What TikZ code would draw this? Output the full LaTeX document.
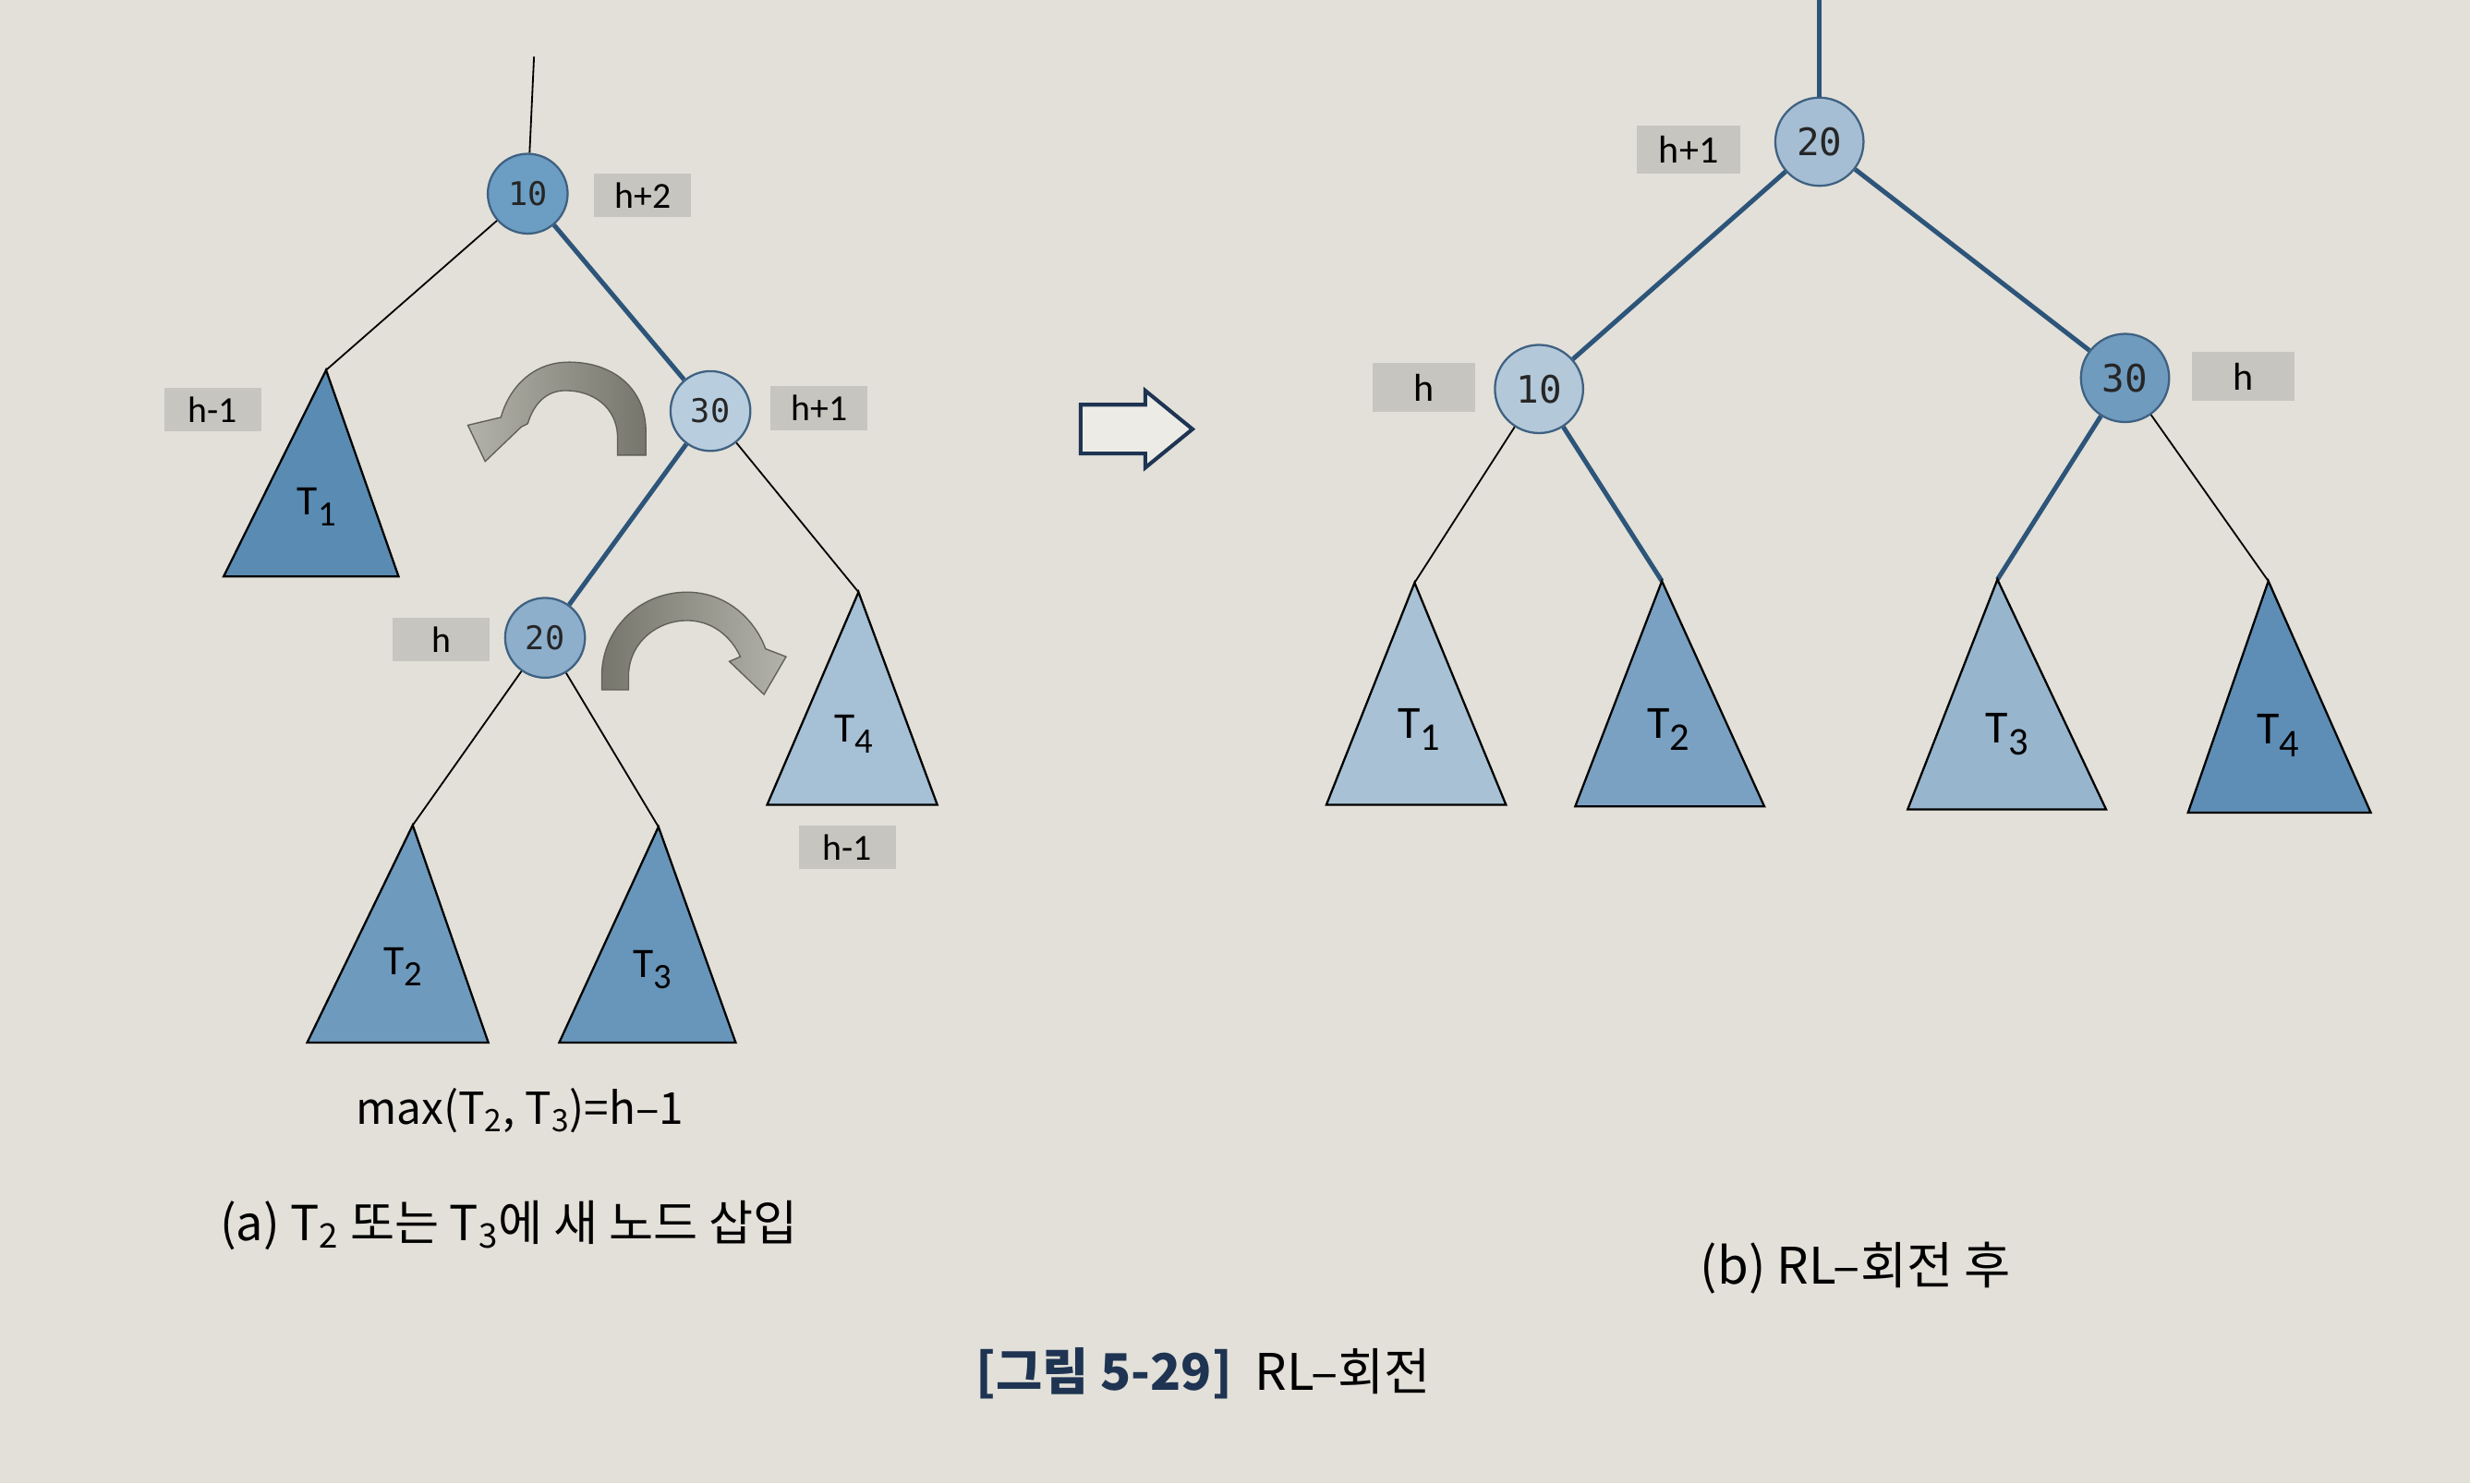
\documentclass[tikz,border=0pt]{standalone}
\usepackage{fontspec}
\setmainfont{Carlito}
\newfontfamily\krfont{Noto Sans CJK KR}
\newfontfamily\numfont{DejaVu Sans Mono}

\definecolor{paper}{RGB}{226,224,216}
\definecolor{edgeblue}{RGB}{45,84,121}
\definecolor{ringblue}{RGB}{63,97,130}
\definecolor{tagfill}{RGB}{198,197,191}
\definecolor{capnavy}{RGB}{30,52,82}
\definecolor{turndark}{RGB}{118,118,108}
\definecolor{turnlight}{RGB}{178,178,170}
\definecolor{turnline}{RGB}{95,95,88}
\definecolor{bigarrow}{RGB}{236,235,230}
% node fills
\definecolor{nodeA}{RGB}{108,157,195}
\definecolor{nodeB}{RGB}{184,206,223}
\definecolor{nodeC}{RGB}{141,175,203}
\definecolor{nodeD}{RGB}{165,190,211}
\definecolor{nodeE}{RGB}{179,200,217}
\definecolor{nodeF}{RGB}{111,155,191}
% subtree fills
\definecolor{triA}{RGB}{90,139,179}
\definecolor{triB}{RGB}{110,154,189}
\definecolor{triC}{RGB}{104,150,186}
\definecolor{triD}{RGB}{166,192,213}
\definecolor{triE}{RGB}{168,193,212}
\definecolor{triF}{RGB}{122,161,194}
\definecolor{triG}{RGB}{151,181,205}
\definecolor{triH}{RGB}{94,142,182}

\newcommand{\tsub}[1]{\raisebox{-0.55ex}{\scalebox{0.85}{#1}}}

\tikzset{every picture/.style={line width=0.75pt}}
\tikzset{
  lnode/.style={circle, draw=ringblue, line width=1, inner sep=0pt, minimum size=38pt, text=black!85, font=\numfont\fontsize{15.5}{15.5}\selectfont},
  rnode/.style={lnode, minimum size=42pt, font=\numfont\fontsize{18}{18}\selectfont},
  ltag/.style={fill=tagfill, inner sep=0pt, minimum width=46pt, minimum height=21pt, font=\fontsize{17.5}{17.5}\selectfont},
  rtag/.style={ltag, minimum width=49pt, minimum height=23pt, font=\fontsize{18.5}{18.5}\selectfont},
  thinedge/.style={draw=black, line width=0.8},
  thickedge/.style={draw=edgeblue, line width=2.2},
  subtree/.style={draw=black, line width=1, line join=miter},
  ltname/.style={inner sep=0pt, font=\fontsize{20}{20}\selectfont},
  rtname/.style={inner sep=0pt, font=\fontsize{22}{22}\selectfont},
  turn/.style={draw=turnline, line width=0.6},
}

\begin{document}
\begin{tikzpicture}[x=0.75pt,y=0.75pt,yscale=-1,xscale=1]
\useasboundingbox (0,0) rectangle (1568,942);
\fill[paper] (0,0) rectangle (1568,942);

%%%%%%%%%% (a) before rotation
%Shape: Circle
\node[lnode, fill=nodeA] (a10) at (335,123) {10};
\node[lnode, fill=nodeB] (a30) at (451,261) {30};
\node[lnode, fill=nodeC] (a20) at (346,405) {20};
%subtree tops
\coordinate (atop) at (339,36);
\coordinate (aT1) at (207,235);
\coordinate (aT2) at (262,524);
\coordinate (aT3) at (418,525);
\coordinate (aT4) at (545,376);

%Straight Lines
\draw[thinedge] (atop) -- (a10);
\draw[thinedge] (a10) -- (aT1);
\draw[thickedge] (a10) -- (a30);
\draw[thickedge] (a30) -- (a20);
\draw[thinedge] (a30) -- (aT4);
\draw[thinedge] (a20) -- (aT2);
\draw[thinedge] (a20) -- (aT3);

%Shape: Triangle
\draw[subtree, fill=triA] (aT1) -- (142,366) -- (253,366) -- cycle;
\draw[subtree, fill=triB] (aT2) -- (195,662) -- (310,662) -- cycle;
\draw[subtree, fill=triC] (aT3) -- (355,662) -- (467,662) -- cycle;
\draw[subtree, fill=triD] (aT4) -- (487,511) -- (595,511) -- cycle;
\node[ltname] (aT1n) at (201,322) {T\tsub{1}};
\node[ltname] (aT2n) at (256,614) {T\tsub{2}};
\node[ltname] (aT3n) at (414,616) {T\tsub{3}};
\node[ltname] (aT4n) at (542,466) {T\tsub{4}};

%Height tags
\node[ltag] (ah10) at (408,124) {h+2};
\node[ltag] (ah30) at (520,259) {h+1};
\node[ltag] (ah20) at (280,406) {h};
\node[ltag] (ahT1) at (135,260) {h-1};
\node[ltag] (ahT4) at (538,538) {h-1};

%Curve Lines: rotation arrows
\path[turn, left color=turnlight, right color=turndark] (410,289) -- (410,274) .. controls (410,246) and (388,229) .. (359,230) .. controls (337,231) and (323,247) .. (318,265) -- (297,270) -- (308,293) -- (331,271) -- (335,269) .. controls (339,256) and (347,248) .. (359,248) .. controls (377,248) and (391,259) .. (392,276) -- (392,289) -- cycle;
\path[turn, left color=turndark, right color=turnlight] (382,438) -- (382,428) .. controls (383,397) and (408,376) .. (436,376) .. controls (461,376) and (479,393) .. (486,412) -- (499,417) -- (485,441) -- (463,420) -- (470,417) .. controls (464,404) and (452,394) .. (436,394) .. controls (418,394) and (400,407) .. (399,428) -- (399,438) -- cycle;

\node[font=\krfont\fontsize{21}{21}\selectfont] (amax) at (330,705) {max(T\textsubscript{2}, T\textsubscript{3})=h–1};
\node[font=\krfont\fontsize{23}{23}\selectfont] (acap) at (323,778) {(a) T\textsubscript{2} 또는 T\textsubscript{3}에 새 노드 삽입};

%%%%%%%%%% arrow between
\draw[draw=capnavy, line width=1.8, fill=bigarrow, line join=miter] (686,257) -- (727,257) -- (727,248) -- (757,272.5) -- (727,297) -- (727,288) -- (686,288) -- cycle;

%%%%%%%%%% (b) after rotation
%Shape: Circle
\node[rnode, fill=nodeD] (b20) at (1155,90) {20};
\node[rnode, fill=nodeE] (b10) at (977,247) {10};
\node[rnode, fill=nodeF] (b30) at (1349,240) {30};
%subtree tops
\coordinate (btop) at (1155,0);
\coordinate (bT1) at (898,370);
\coordinate (bT2) at (1055,369);
\coordinate (bT3) at (1268,368);
\coordinate (bT4) at (1440,369);

%Straight Lines
\draw[thickedge] (btop) -- (b20);
\draw[thickedge] (b20) -- (b10);
\draw[thickedge] (b20) -- (b30);
\draw[thinedge] (b10) -- (bT1);
\draw[thickedge] (b10) -- (bT2);
\draw[thickedge] (b30) -- (bT3);
\draw[thinedge] (b30) -- (bT4);

%Shape: Triangle
\draw[subtree, fill=triE] (bT1) -- (842,511) -- (956,511) -- cycle;
\draw[subtree, fill=triF] (bT2) -- (1000,512) -- (1120,512) -- cycle;
\draw[subtree, fill=triG] (bT3) -- (1211,514) -- (1337,514) -- cycle;
\draw[subtree, fill=triH] (bT4) -- (1389,516) -- (1505,516) -- cycle;
\node[rtname] (bT1n) at (901,463) {T\tsub{1}};
\node[rtname] (bT2n) at (1059,463) {T\tsub{2}};
\node[rtname] (bT3n) at (1274,466) {T\tsub{3}};
\node[rtname] (bT4n) at (1446,467) {T\tsub{4}};

%Height tags
\node[rtag] (bh20) at (1072,95) {h+1};
\node[rtag] (bh10) at (904,246) {h};
\node[rtag] (bh30) at (1424,239) {h};

\node[font=\krfont\fontsize{24}{24}\selectfont] (bcap) at (1178,805) {(b) RL–회전 후};

%%%%%%%%%% figure caption
\node[font=\krfont\fontsize{24}{24}\selectfont] (figcap) at (764,872) {\textcolor{capnavy}{\bfseries [그림 5-29]}\hspace{0.45em}RL–회전};
\end{tikzpicture}
\end{document}
